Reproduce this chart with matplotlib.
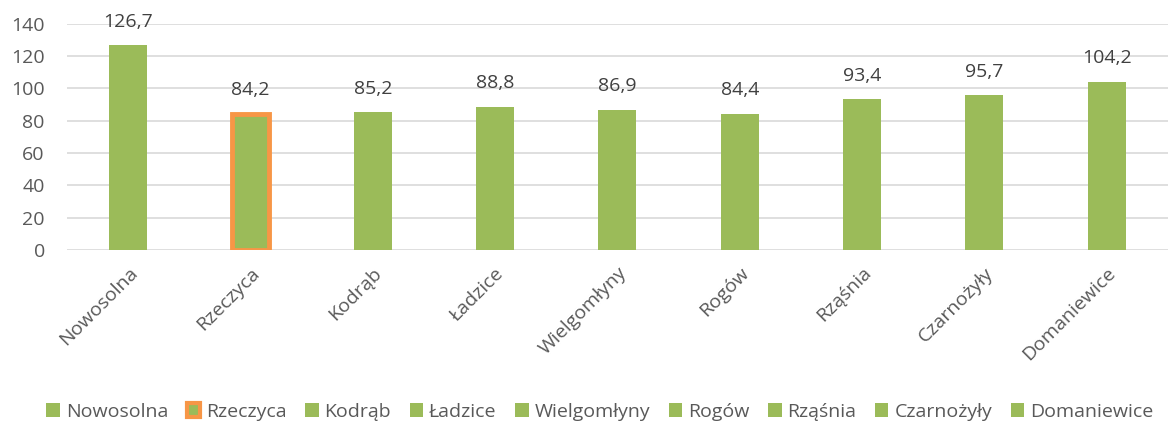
import matplotlib
matplotlib.use("Agg")
import matplotlib.pyplot as plt
from matplotlib.patches import Patch

gminy = ["Nowosolna", "Rzeczyca", "Kodrąb", "Ładzice", "Wielgomłyny",
         "Rogów", "Rząśnia", "Czarnożyły", "Domaniewice"]
wartosci = [126.7, 84.2, 85.2, 88.8, 86.9, 84.4, 93.4, 95.7, 104.2]
wyrozniona = "Rzeczyca"

GREEN = "#9BBB59"
ORANGE = "#F79646"
TXT = "#595959"

plt.rcParams["font.family"] = ["Open Sans", "DejaVu Sans"]

fig = plt.figure(figsize=(11.76, 4.34), dpi=100)
ax = fig.add_axes([0.057, 0.424, 0.936, 0.521])

x = list(range(len(gminy)))
for i, (g, v) in enumerate(zip(gminy, wartosci)):
    if g == wyrozniona:
        ax.bar(i, v, width=0.31, color=GREEN, edgecolor=ORANGE, linewidth=3.5, zorder=3)
    else:
        ax.bar(i, v, width=0.31, color=GREEN, zorder=3)
    ax.text(i, v + 9, f"{v:.1f}".replace(".", ","), ha="center", va="bottom",
            fontsize=14, color="#404040")

ax.set_xlim(-0.5, len(gminy) - 0.5)
ax.set_ylim(0, 140)
ax.set_yticks(range(0, 141, 20))
ax.yaxis.grid(True, color="#d9d9d9", linewidth=1.2, zorder=0)
ax.set_axisbelow(True)
for s in ax.spines.values():
    s.set_visible(False)
ax.tick_params(axis="both", length=0, labelsize=14, colors=TXT)
ax.tick_params(axis="y", pad=16)
ax.tick_params(axis="x", pad=10)
ax.set_xticks(x)
ax.set_xticklabels(gminy, rotation=45, ha="right", rotation_mode="anchor")

handles = []
for g in gminy:
    if g == wyrozniona:
        handles.append(Patch(facecolor=GREEN, edgecolor=ORANGE, linewidth=3, label=g))
    else:
        handles.append(Patch(facecolor=GREEN, label=g))
leg = fig.legend(handles=handles, loc="lower center", bbox_to_anchor=(0.51, -0.01),
                 ncol=len(gminy), frameon=False, fontsize=14, handlelength=0.7,
                 handleheight=0.7, handletextpad=0.3, columnspacing=0.95)
for t in leg.get_texts():
    t.set_color(TXT)

fig.savefig("out.png", dpi=100)
